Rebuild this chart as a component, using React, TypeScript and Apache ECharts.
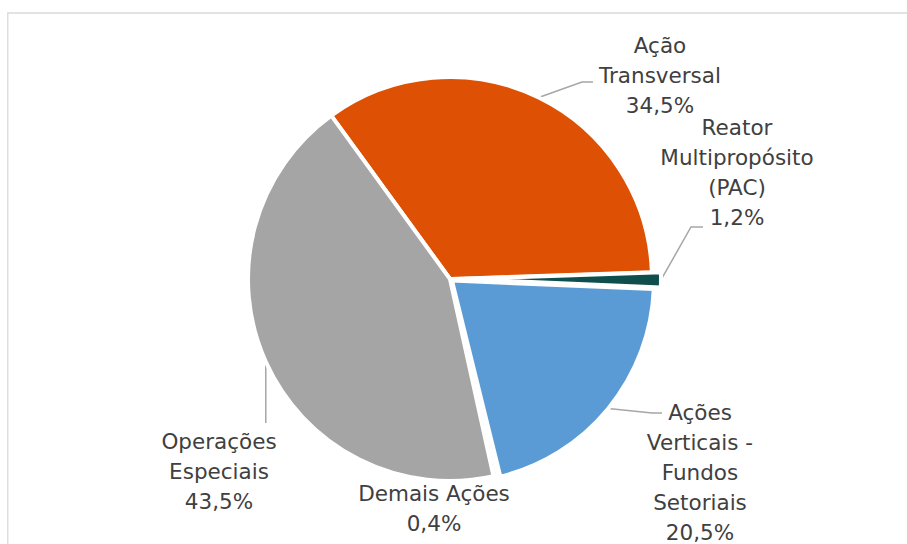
import { useEffect, useRef } from 'react';
import * as echarts from 'echarts';

// ---- data ----
const categories = [
  'Ação\nTransversal',
  'Reator\nMultipropósito\n(PAC)',
  'Ações\nVerticais -\nFundos\nSetoriais',
  'Demais Ações',
  'Operações\nEspeciais',
];
const shares = [34.5, 1.2, 20.5, 0.4, 43.5];

// ---- styles ----
const sliceColors = ['#DE5004', '#0E4F4E', '#5B9BD5', '#F7F7F7', '#A5A5A5'];
const explodePx = [0, 9, 2.5, 0, 0];
const TEXT = '#404040';
const FONT = "'DejaVu Sans', Verdana, sans-serif";

// label block centres and leader bends (layout, not data); NaN x = keep the start x
const labelSpots: { x: number; y: number; leader: number[][] | null }[] = [
  { x: 660, y: 75, leader: [[582, 82], [593, 82]] },
  { x: 737, y: 172, leader: [[691, 227], [703, 227]] },
  { x: 700, y: 472, leader: [[652, 413], [662, 413]] },
  { x: 434, y: 508, leader: null },
  { x: 219, y: 471, leader: [[NaN, 400], [NaN, 423]] },
];

const CX = 450;
const CY = 279;
const R = 202;
const START = 126;

function buildOption() {
  const total = shares.reduce((a, b) => a + b, 0);
  let cum = 0;
  const mids = shares.map((v) => {
    const m = -START + (360 * (cum + v / 2)) / total;
    cum += v;
    return (m * Math.PI) / 180;
  });
  const mainItems = shares.map((_, i) => i).filter((i) => explodePx[i] === 0);
  const specs = [
    { items: mainItems, center: [CX, CY] },
    ...shares
      .map((_, i) => i)
      .filter((i) => explodePx[i] > 0)
      .map((i) => ({
        items: [i],
        center: [CX + Math.cos(mids[i]) * explodePx[i], CY + Math.sin(mids[i]) * explodePx[i]],
      })),
  ];

  const series = specs.map((spec) => ({
    type: 'pie',
    radius: R,
    center: spec.center,
    startAngle: START,
    clockwise: true,
    silent: true,
    avoidLabelOverlap: false,
    label: {
      show: true,
      position: 'outside',
      formatter: (p: any) => `${p.name}\n${Number(p.value).toFixed(1).replace('.', ',')}%`,
      color: TEXT,
      fontFamily: FONT,
      fontSize: 21.5,
      lineHeight: 30,
      align: 'center',
      overflow: 'none',
    },
    labelLine: { show: true, lineStyle: { color: '#A6A6A6', width: 1.5 } },
    emphasis: { disabled: true },
    data: categories.map((name, i) => {
      const visible = spec.items.includes(i);
      return {
        name,
        value: shares[i],
        itemStyle: visible
          ? { color: sliceColors[i], borderColor: '#FFFFFF', borderWidth: 4 }
          : { color: 'rgba(0,0,0,0)', borderWidth: 0 },
        label: { show: visible },
        labelLine: { show: visible && labelSpots[i].leader != null },
      };
    }),
    labelLayout: (p: any) => {
      const s = labelSpots[p.dataIndex];
      const out: any = { x: s.x, y: s.y, align: 'center', verticalAlign: 'middle' };
      const start = p.labelLinePoints ? p.labelLinePoints[0] : null;
      if (start && s.leader) {
        const pts = s.leader.map((pt) => [isNaN(pt[0]) ? start[0] : pt[0], pt[1]]);
        out.labelLinePoints = [start, ...pts];
      }
      return out;
    },
  }));

  return {
    animation: false,
    backgroundColor: '#FFFFFF',
    graphic: [
      {
        type: 'rect',
        shape: { x: 7.8, y: 13, width: 1200, height: 1200 },
        style: { fill: 'none', stroke: '#D9D9D9', lineWidth: 1.3 },
        silent: true,
      },
    ],
    series,
  };
}

export default function App() {
  const ref = useRef<HTMLDivElement>(null);
  useEffect(() => {
    if (!ref.current) return;
    const chart = echarts.init(ref.current, undefined, { renderer: 'svg' });
    chart.setOption(buildOption() as any);
    return () => chart.dispose();
  }, []);
  return (
    <div
      ref={ref}
      style={{ position: 'fixed', left: 0, top: 0, width: 907, height: 544, background: '#fff' }}
    />
  );
}
